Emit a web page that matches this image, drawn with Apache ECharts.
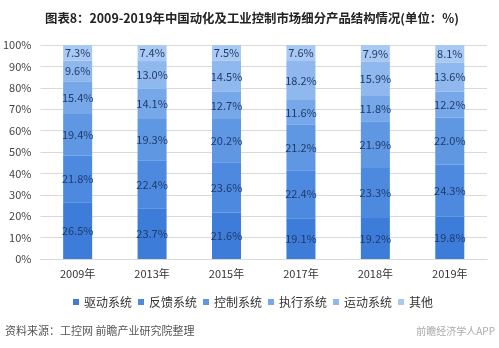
<!DOCTYPE html>
<html>
<head>
<meta charset="utf-8">
<script src="https://cdn.jsdelivr.net/npm/echarts@6/dist/echarts.min.js"></script>
<style>
html,body{margin:0;padding:0;background:#fff;}
#c{width:499px;height:348px;}
</style>
</head>
<body>
<div id="c"></div>
<script>
var categories = ['2009年','2013年','2015年','2017年','2018年','2019年'];
var seriesNames = ['驱动系统','反馈系统','控制系统','执行系统','运动系统','其他'];
var drive = [26.5, 23.7, 21.6, 19.1, 19.2, 19.8];
var feedback = [21.8, 22.4, 23.6, 22.4, 23.3, 24.3];
var control = [19.4, 19.3, 20.2, 21.2, 21.9, 22.0];
var actuator = [15.4, 14.1, 12.7, 11.6, 11.8, 12.2];
var motion = [9.6, 13.0, 14.5, 18.2, 15.9, 13.6];
var other = [7.3, 7.4, 7.5, 7.6, 7.9, 8.1];
var yTicks = [0,10,20,30,40,50,60,70,80,90,100];

var colors = ['#3d7dd9','#4d8adf','#5f97e3','#76a7e8','#8fb8ee','#a9c9f3'];
var values = [drive, feedback, control, actuator, motion, other];
var font = '"Noto Sans CJK SC", "Noto Sans", sans-serif';

var chart = echarts.init(document.getElementById('c'), null, {renderer:'canvas'});
var series = seriesNames.map(function(n, i){
  return {
    name: n, type: 'bar', stack: 'total', barWidth: '39%',
    data: values[i],
    itemStyle: {color: colors[i]},
    label: {show: true, position: 'inside', formatter: function(p){return p.value.toFixed(1)+'%';},
      color: '#1f3a6b', fontSize: 11, fontFamily: font}
  };
});
chart.setOption({
  animation: false,
  color: colors,
  title: {
    text: '图表8：2009-2019年中国动化及工业控制市场细分产品结构情况(单位：%)',
    left: 40, top: 7,
    textStyle: {fontSize: 12.4, fontWeight: 'bold', color: '#222', fontFamily: font}
  },
  grid: {left: 36, right: 12, top: 45, bottom: 89, containLabel: false},
  legend: {
    data: seriesNames, left: 68, top: 291,
    itemWidth: 6, itemHeight: 6, itemGap: 6, icon: 'rect',
    textStyle: {fontSize: 12, color: '#333', fontFamily: font}
  },
  xAxis: {
    type: 'category', data: categories,
    axisLine: {show: true, lineStyle: {color: '#d9d9d9'}},
    axisTick: {show: false},
    axisLabel: {fontSize: 11, color: '#333', margin: 9, fontFamily: font}
  },
  yAxis: {
    type: 'value', min: yTicks[0], max: yTicks[yTicks.length-1], interval: 10,
    axisLine: {show: false}, axisTick: {show: false},
    splitLine: {lineStyle: {color: '#d9d9d9'}},
    axisLabel: {fontSize: 11, color: '#444', margin: 9, formatter: '{value}%', fontFamily: font}
  },
  graphic: [
    {type: 'text', left: 5, top: 325, style: {text: '资料来源：工控网 前瞻产业研究院整理', fill: '#555', font: '11px ' + font}},
    {type: 'text', right: 4, top: 326, style: {text: '前瞻经济学人APP', fill: '#aaa', font: '10px ' + font}}
  ],
  series: series
});
</script>
</body>
</html>
